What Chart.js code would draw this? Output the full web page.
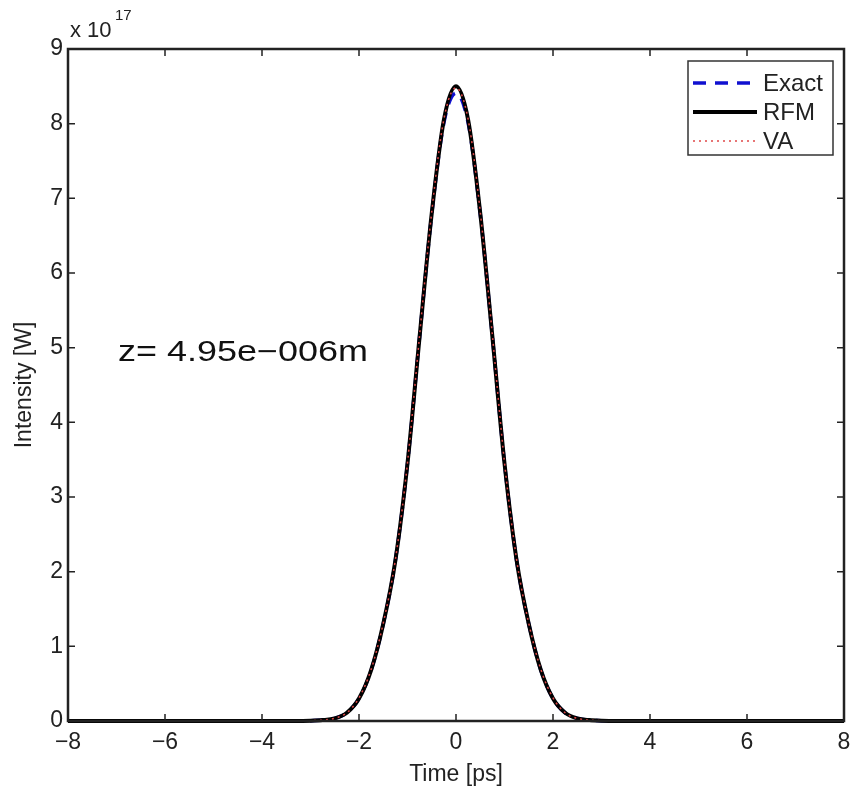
<!DOCTYPE html>
<html>
<head>
<meta charset="utf-8">
<script src="https://cdn.jsdelivr.net/npm/chart.js@4.4.1/dist/chart.umd.min.js"></script>
<style>
  html, body { margin: 0; padding: 0; background: #fff; }
  #wrap { width: 851px; height: 798px; }
</style>
</head>
<body>
<div id="wrap"><canvas id="pulseChart" width="851" height="798"></canvas></div>
<script>
// time axis (ps) and intensity in units of 1e17 W
const timePs = [-8, -7, -6, -5, -4, -3.5, -3, -2.75, -2.5, -2.25, -2, -1.75, -1.5, -1.25, -1, -0.75, -0.5, -0.25, 0,
  0.25, 0.5, 0.75, 1, 1.25, 1.5, 1.75, 2, 2.25, 2.5, 2.75, 3, 3.5, 4, 5, 6, 7, 8];
const exactVals = [0, 0, 0, 0, 0, 0.001, 0.004, 0.012, 0.035, 0.11, 0.30, 0.68, 1.30, 2.15, 3.45, 5.15, 6.79, 8.01, 8.41,
  8.01, 6.79, 5.15, 3.45, 2.15, 1.30, 0.68, 0.30, 0.11, 0.035, 0.012, 0.004, 0.001, 0, 0, 0, 0, 0];
const rfmVals = [0, 0, 0, 0, 0, 0.001, 0.004, 0.012, 0.035, 0.11, 0.30, 0.68, 1.30, 2.15, 3.45, 5.15, 6.80, 8.05, 8.50,
  8.05, 6.80, 5.15, 3.45, 2.15, 1.30, 0.68, 0.30, 0.11, 0.035, 0.012, 0.004, 0.001, 0, 0, 0, 0, 0];
const vaVals = [0, 0, 0, 0, 0, 0.001, 0.004, 0.012, 0.036, 0.11, 0.31, 0.69, 1.31, 2.16, 3.46, 5.17, 6.82, 8.06, 8.48,
  8.06, 6.82, 5.17, 3.46, 2.16, 1.31, 0.69, 0.31, 0.11, 0.036, 0.012, 0.004, 0.001, 0, 0, 0, 0, 0];
const xTicks = [-8, -6, -4, -2, 0, 2, 4, 6, 8];
const yTicks = [0, 1, 2, 3, 4, 5, 6, 7, 8, 9];
const noteText = "z= 4.95e\u2212006m";
const notePos = { x: -6.97, y: 4.82 };

const FONT = "'Liberation Sans', Arial, sans-serif";
const toPts = vals => timePs.map((t, i) => ({ x: t, y: vals[i] }));
const minus = v => String(v).replace("-", "\u2212");

const datasets = [
  { label: "Exact", data: toPts(exactVals), borderColor: "#1010d0", borderWidth: 3.5, borderDash: [13, 9], order: 3 },
  { label: "RFM", data: toPts(rfmVals), borderColor: "#000", borderWidth: 4, order: 2 },
  { label: "VA", data: toPts(vaVals), borderColor: "#e04848", borderWidth: 1.5, borderDash: [2, 4], order: 1 }
].map(d => Object.assign(d, { pointRadius: 0, fill: false, cubicInterpolationMode: "monotone", clip: 5 }));

// axes box, inward ticks, legend, note and exponent label
const decor = {
  id: "decor",
  afterDraw(chart) {
    const { ctx, chartArea: a, scales } = chart;
    const xs = scales.x, ys = scales.y;
    ctx.save();
    ctx.strokeStyle = "#222";
    ctx.lineWidth = 1.5;
    ctx.beginPath();
    xTicks.forEach(v => {
      const px = xs.getPixelForValue(v);
      ctx.moveTo(px, a.bottom); ctx.lineTo(px, a.bottom - 7);
      ctx.moveTo(px, a.top); ctx.lineTo(px, a.top + 7);
    });
    yTicks.forEach(v => {
      const py = ys.getPixelForValue(v);
      ctx.moveTo(a.left, py); ctx.lineTo(a.left + 7, py);
      ctx.moveTo(a.right, py); ctx.lineTo(a.right - 7, py);
    });
    ctx.stroke();
    ctx.lineWidth = 2.5;
    ctx.strokeRect(a.left, a.top, a.right - a.left, a.bottom - a.top);

    // legend
    const lx = a.right - 156, ly = a.top + 12, lw = 145, lh = 94;
    ctx.fillStyle = "#fff";
    ctx.fillRect(lx, ly, lw, lh);
    ctx.lineWidth = 1.5;
    ctx.strokeStyle = "#333";
    ctx.strokeRect(lx, ly, lw, lh);
    ctx.font = "24px " + FONT;
    ctx.textBaseline = "middle";
    ctx.textAlign = "left";
    datasets.forEach((d, i) => {
      const cy = ly + 22 + i * 29;
      ctx.beginPath();
      ctx.setLineDash(d.borderDash || []);
      ctx.strokeStyle = d.borderColor;
      ctx.lineWidth = d.borderWidth;
      ctx.moveTo(lx + 5, cy); ctx.lineTo(lx + 69, cy);
      ctx.stroke();
      ctx.setLineDash([]);
      ctx.fillStyle = "#222";
      ctx.fillText(d.label, lx + 75, cy + 1);
    });

    // annotation
    ctx.save();
    ctx.translate(xs.getPixelForValue(notePos.x), ys.getPixelForValue(notePos.y));
    ctx.scale(1.24, 1);
    ctx.font = "29px " + FONT;
    ctx.textBaseline = "alphabetic";
    ctx.fillStyle = "#111";
    ctx.fillText(noteText, 0, 0);
    ctx.restore();

    // exponent
    ctx.fillStyle = "#222";
    ctx.textBaseline = "alphabetic";
    ctx.font = "22px " + FONT;
    ctx.fillText("x 10", a.left + 2, a.top - 12);
    ctx.font = "15px " + FONT;
    ctx.fillText("17", a.left + 47, a.top - 29);
    ctx.restore();
  }
};

new Chart(document.getElementById("pulseChart"), {
  type: "line",
  data: { datasets },
  options: {
    responsive: false,
    animation: false,
    layout: { padding: { top: 49, right: 7, left: 0, bottom: 0 } },
    plugins: { legend: { display: false }, tooltip: { enabled: false } },
    scales: {
      x: {
        type: "linear", min: -8, max: 8,
        afterBuildTicks: s => { s.ticks = xTicks.map(v => ({ value: v })); },
        afterFit: s => { s.height = 77; s.paddingLeft = 0; s.paddingRight = 0; },
        grid: { display: false, drawTicks: false }, border: { display: false },
        ticks: { color: "#222", font: { family: FONT, size: 23 }, padding: 8, maxRotation: 0, callback: minus },
        title: { display: true, text: "Time [ps]", color: "#222", font: { family: FONT, size: 23 }, padding: { top: 0, bottom: 10 } }
      },
      y: {
        type: "linear", min: 0, max: 9,
        afterBuildTicks: s => { s.ticks = yTicks.map(v => ({ value: v })); },
        afterFit: s => { s.width = 68; s.paddingTop = 0; s.paddingBottom = 0; },
        grid: { display: false, drawTicks: false }, border: { display: false },
        ticks: { color: "#222", font: { family: FONT, size: 23 }, padding: 5 },
        title: { display: true, text: "Intensity [W]", color: "#222", font: { family: FONT, size: 23 }, padding: { top: 11, bottom: 0 } }
      }
    }
  },
  plugins: [decor]
});
</script>
</body>
</html>
